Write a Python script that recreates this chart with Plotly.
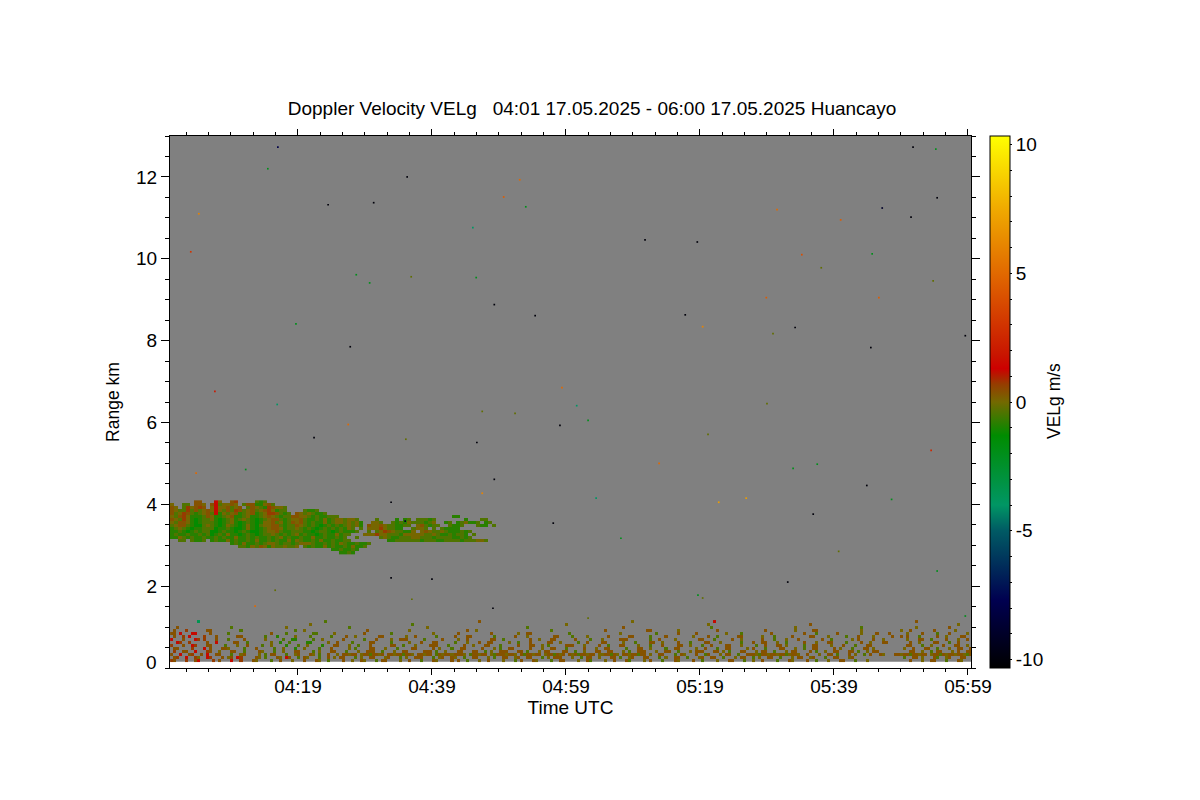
import plotly.graph_objects as go

TITLE = "Doppler Velocity VELg   04:01 17.05.2025 - 06:00 17.05.2025 Huancayo"
X_TICK_MIN = [19, 39, 59, 79, 99, 119]
X_TICK_TEXT = ["04:19", "04:39", "04:59", "05:19", "05:39", "05:59"]
X_MINOR_MIN = [m * 10 / 3 - 1 for m in range(0, 37)]
Y_TICKS = [0, 2, 4, 6, 8, 10, 12]
Y_MINOR = [v * 0.5 for v in range(0, 27)]

# velocity (m/s) for each letter used in the two rasters below
LEVELS = {"r": 1.2, "o": 0.7, "b": 0.35, "k": 0.05, "g": -0.4, "G": -0.85, "H": -1.25, "t": -3.5, "y": 6.0, "n": -9.0}

# Cloud layer, rows from top to bottom, 0.6 min x 0.073 km per letter
CLOUD_T0, CLOUD_DT = 0.2, 0.6
CLOUD_R0, CLOUD_DR = 4.06, -0.0732
CLOUD_ROWS = [
    "      bb   rk  bo    gGg",
    "k  gg bbk brgkkbk gbbGGkbg",
    "bk gokbob krkkbgkb gbkgGobkkg",
    "bkggogbgkbkrkgbgobgkbgkbokGgg    gGGg",
    "bgkobgGgkbgrGkgkbGgkbGgkoobgGg bkgkgGGg",
    "kgbokGGGgbkGGgkbGGgkGGgkbkgGggbbkkgGgGGggg                            GG",
    "bkgokGHGggkGHGgkGgkgGHGgkbbgGgkkbgGGgGkGgkkgkkg    g    G Gg gggGg       G   gg",
    "kgbbkGHGgggGHGgkGHGgGHGkkbgkGgbkbgGgGGkGgkkgkgkG  kkg  gGgGkgggGgk  Gg GgkGGg Gg",
    "gkbbgGHHgkgGHGkgGHGkGHgkkbbgGggbkgGgGHGgGgGgkgkG bkkbkggGGgg kbgGgg  gGGg   gGG g",
    "GgkgGHGGgggHGGgGHHGkGHGgkbbkGggkgGgGHGgGgGgGkg g kkkokggGG  gkkg g gGGGG",
    "GGgGHGgGggHHGgGGHGgGHHGgkkbgGGgggGGHGggGHGgGGGg  g gkobkggGGk kbkggkgGGGgGg",
    "GgGGgGGgGgHGgGkGGHGgGHGggkgGgGgkGgGGHGgGGkGgg   kkkokkgggGkkkkkggkgGGgGggG g",
    "GGkgGgGGgGGgGgGGkGGgGgGGgGgkGgGGgGGkGGgGGgGg  g     gkgGGgggkkgggGggggGGgGg",
    "  gg gGGg GgGGkGgGGgGkGGgGgGGkGkgGGgGkGGgGGgg         GGggggggGgggGGggggGgggkkg",
    "               GgGkGGgGgkkgGggGgkkkgGGgGgGkgGGgGGg",
    "                 ggGkgbkGkggkggk gGgGGkGgGGgGkGGg",
    "                                        GGgGGgG",
    "                                          GGgG",
]

# Low-level clutter, rows from top to bottom, 0.45 min x 0.073 km per letter
CLUTTER_T0, CLUTTER_DT = 0.15, 0.45
CLUTTER_R0, CLUTTER_DR = 1.135, -0.0732
CLUTTER_ROWS = [
    "         t                                         g                                                  b                                                  k                          r                                                                  b          ",
    "                                              k                                 g                                                  k                                              k                                 b                                    ",
    "  b                 g                 k                    g                         k                                g                               b                            g                           k                     g                 k     ",
    " b   o      bb         g                 g  k                    b             k                  b  k                        g                 b             bb        k            b               b         k     bb              k            k  b     ",
    "bb r   rr    b     g             b    g        gg     k         b        g             k       b          b        k  bb            g                k           g      b     b         k    g         b          b   g      b       k    b   b   ",
    " b  o r    o   b      bb       g   G     k    g      g    b  k       bb       k  b      g     b   bb       g      b   k        bb    g    k      b      bb     g    b        k    b  g      bb      k   g     b     bb    k     g   b    k     b  b ",
    "r   b   ro o   b   g    b      k     g  GG     g  k      b      g   b    k  bbb     g     b    k  b       bb  g        b  k   bb      b    g   k     bbb       g  b    k       bb   g     b  k      b   g   k   b       b  g      k b    b  k   ",
    "  ro  o     b  r     bb  g       k  G  g     GG     k  b    g     bb     g     k   b   bb     g   k   b  bb     k  g   b     bb  k     g  b    bb     k   g    bb  k    b   g    bb   k      g   b  bb   k  g     b   k   bb    g    b  k   bb ",
    "o   b  ro   bb    g   k  b    g  k    G   g  k    G   bb   k  g   b      bb  g   k    bbb   g    b  k   bb   g     b   bb  k g     bbb   k    b  g   bb    k   g   b    bb  k   g  b    bb   k    g  b   bb k     g  bb    k   b   g   bb  ",
    " bb    o   r b   bbk    g   b     g  k   G  k    g   b     k g    bb   k   g    bb     b k   g  bb     b   k g  bb     b   k  bb   g     b   k  bb     g   bb  k    g  bb     k  b   g  bb     k b   g    bb   k  g  bb     b k   g   bb k  ",
    " o  bb  r   ob  k   bb  g    bk   g  k   bb    g k   bb   g   k  bbb  g   k  bb     bbb g  k   bb   bb  g k  bbb   bb g   k bb    bb  g  k   bb  bb   k g  bbb   k  bb  g   k bbb   bb k g   bb   k bb  g   k bb    b g  k  bb   bb g  k bb  ",
    "b  r  bo  b r  bb   g  kb    k g bb   g  kb   bk g  b  k bbkbb kbbgbbkb bbkbbgbbk bbkbb gbkbbkbbbk gbbkbb kgbbbkbbk bgbbkbb kbbgbkb bkbgbbkbb kkbbgbk bbkbbgbb k  bb   g bk   b  gb   k bb  g  bbbkgbbkbbkbbgkbbk  b   k  bb g   b k  g b  bk   bbkbbgbbkbb kbbgbkbbkbbkgbbkbb",
    " bo  r  ok  ro   b kb ro    bk g   bk rb  g bk   g  b k bb   g k  bb   kb   g k  bbb   g kb  bk  g  bb   k g  bb  kb  bb   g k bbb   k  g bb  k   bb g  kb   bb   g k  bb  g   kb  bb  g   k bb  g k  bb  g   k bb  kb   g  bb   kb   ",
    "ob   o  br    o b   r  o   bk    g  b   k   b   bk  g    b  k  bk   g bb    k  b   g   bk    b b  g   k  b    k   g b   bk    g  bb    k  bg    k  b   bg    k b   g   bk    b  g    k   bb   g  k  b    g   bk    b  g   k   bb   g   k ",
]
# right-hand end of the clutter rows, starting 243 cells in
CLUTTER_TAILS = [
    "                        ",
    "            k           ",
    "     b                  ",
    "  b      k        b     ",
    " k    b    g   b     k  ",
    "b   g     b  k    bb    ",
    " k   bb  g    b   k  b  ",
    "  b  k    bb   g  b    k",
    " bb   g  k   b   bb  k  ",
    "k  b   bb  g   k  bb  b ",
    "  bb  k  g bb   k b  bb ",
    "",
    "g  bb k   bg  kb   bb  k",
    "  b   k  bb   g   bk   b",
]

# Isolated pixels: time (min after 04:00), range (km), velocity (m/s)
SPECK_T = [16.0, 14.5, 35.3, 23.5, 30.3, 4.2, 52.1, 49.7, 53.0, 45.1, 3.0, 78.6, 70.8, 94.2, 100.0, 90.5, 110.8, 114.2, 114.4, 110.5,
           106.2, 104.7, 97.1, 27.7, 29.7, 35.9, 45.6, 48.3, 54.4, 76.8, 79.4, 88.9, 105.7, 93.2, 89.9, 113.8, 118.6, 104.5, 26.8, 18.7,
           6.6, 58.4, 15.9, 60.6, 62.3, 58.1, 26.5, 21.4, 45.7, 46.5, 51.4, 89.0, 80.2, 35.1, 48.3, 46.5, 32.9, 72.9, 63.5, 81.8,
           85.9, 95.9, 96.5, 92.9, 113.5, 103.9, 107.6, 3.8, 11.2, 57.1, 67.2, 92.1, 99.7, 114.4, 32.9, 39.0, 15.6, 12.6, 79.4, 78.7,
           48.1, 36.0, 62.3, 118.6, 35.0]
SPECK_R = [12.73, 12.2, 12.0, 11.32, 11.37, 11.1, 11.93, 11.51, 11.27, 10.76, 10.17, 10.41, 10.46, 10.1, 10.95, 11.2, 12.73, 12.68, 11.49, 11.02,
           11.24, 10.12, 9.78, 9.61, 9.41, 9.56, 9.54, 8.88, 8.61, 8.63, 8.34, 9.05, 9.05, 8.32, 8.17, 9.46, 8.12, 7.83, 7.85, 8.41,
           6.76, 6.85, 6.44, 6.41, 6.05, 5.93, 5.95, 5.63, 5.51, 6.27, 6.22, 6.46, 5.71, 5.59, 4.61, 4.27, 4.05, 5.0, 4.15, 4.05,
           4.15, 3.76, 4.98, 4.88, 5.32, 4.46, 4.12, 4.76, 4.85, 3.54, 3.17, 2.1, 2.85, 2.37, 2.2, 2.17, 1.9, 1.51, 1.71, 1.78,
           1.46, 1.68, 1.22, 1.27, 3.59]
SPECK_V = [-8, -2, -10, -10, -10, 6, 5, 4.5, -2, -4, 3, -10, -10, 4, 4.5, 5, -10, -2, -10, -10,
           -9, -2, -0.2, -2, -2, -0.2, -2, -10, -10, -10, 6, 4.5, 4.5, -10, -0.2, -0.2, -10, -10, -10, -2,
           2, 5, -4, -4, -2, -10, 5, -10, -10, -0.2, -0.2, -0.2, -0.2, -0.2, -10, 6, -10, 5, -4, 7,
           7, -10, -2, -2, 2.5, -10, -2, 5, -2, -10, -2, -10, -0.2, -2, -10, -10, -0.2, 5, -0.2, -2,
           -10, -0.2, -0.2, -2, -9]

V_MIN, V_MAX = -10.33, 10.33
COLOR_STOPS = [(-10.33, "rgb(0,0,0)"), (-7.7, "rgb(0,0,80)"), (-5, "rgb(0,90,100)"), (-4, "rgb(0,150,100)"),
               (-1.3, "rgb(0,140,0)"), (0, "rgb(115,105,0)"), (0.7, "rgb(150,60,0)"), (1.3, "rgb(205,0,0)"),
               (1.8, "rgb(200,20,0)"), (5, "rgb(225,105,0)"), (7.5, "rgb(240,170,0)"), (10.33, "rgb(255,255,0)")]
COLORBAR_TICKS = list(range(-10, 11))
COLORBAR_LABELS = [str(v) if v % 5 == 0 else "" for v in COLORBAR_TICKS]

FONT = "Liberation Sans"
FS = 19
FS_ROT = 17.5


def decode(rows):
    width = max(len(r) for r in rows)
    return [[LEVELS.get(c) for c in r.ljust(width)] for r in rows]


colorscale = [[(v - V_MIN) / (V_MAX - V_MIN), c] for v, c in COLOR_STOPS]
clutter_full = [r if not t else r.ljust(243) + t for r, t in zip(CLUTTER_ROWS, CLUTTER_TAILS)]

fig = go.Figure()
fig.add_shape(type="rect", xref="paper", yref="y", x0=0, x1=1, y0=0.15, y1=13,
              fillcolor="#808080", line_width=0, layer="below")
for rows, t0, dt, r0, dr in [(clutter_full, CLUTTER_T0, CLUTTER_DT, CLUTTER_R0, CLUTTER_DR),
                             (CLOUD_ROWS, CLOUD_T0, CLOUD_DT, CLOUD_R0, CLOUD_DR)]:
    fig.add_trace(go.Heatmap(z=decode(rows), x0=t0, dx=dt, y0=r0, dy=dr, coloraxis="coloraxis",
                             hoverongaps=False, zsmooth=False))
fig.add_trace(go.Scatter(x=SPECK_T, y=SPECK_R, mode="markers",
                         marker=dict(symbol="square", size=1.7, color=SPECK_V, coloraxis="coloraxis", line_width=0)))

axis_common = dict(showgrid=False, zeroline=False, showline=True, linecolor="black", linewidth=1,
                   mirror="ticks", ticks="outside", tickcolor="black", tickwidth=1,
                   tickfont=dict(family=FONT, size=FS, color="black"))
fig.update_xaxes(range=[-0.1, 119.45], tickmode="array", tickvals=X_TICK_MIN, ticktext=X_TICK_TEXT, ticklen=6,
                 ticklabelstandoff=-5,
                 minor=dict(tickmode="array", tickvals=X_MINOR_MIN, ticks="outside", ticklen=3, tickcolor="black"),
                 title=dict(text="Time UTC", font=dict(family=FONT, size=FS, color="black"), standoff=1),
                 **axis_common)
fig.update_yaxes(range=[0, 13], tickmode="array", tickvals=Y_TICKS, ticktext=[""] + [str(v) for v in Y_TICKS[1:]], ticklen=8,
                 minor=dict(tickmode="array", tickvals=Y_MINOR, ticks="outside", ticklen=4, tickcolor="black"),
                 title=dict(text="Range km", font=dict(family=FONT, size=FS_ROT, color="black"), standoff=11),
                 **axis_common)
fig.add_annotation(text="0", xref="paper", yref="y", x=-0.0137, y=0.146, xanchor="right", yanchor="middle",
                   showarrow=False, font=dict(family=FONT, size=FS, color="black"))
fig.add_annotation(text="VELg m/s", xref="paper", yref="paper", x=(1053 - 169) / 801, y=(667 - 400) / 532,
                   xanchor="center", yanchor="middle", textangle=-90, showarrow=False,
                   font=dict(family=FONT, size=FS_ROT, color="black"))
fig.update_layout(
    width=1200, height=800, showlegend=False,
    margin=dict(l=162, r=237, t=128, b=140, autoexpand=False),
    paper_bgcolor="white", plot_bgcolor="white",
    font=dict(family=FONT, size=FS, color="black"),
    title=dict(text=TITLE, x=584 / 1200, xanchor="center", y=1 - 100 / 800, yanchor="middle",
               font=dict(family=FONT, size=FS, color="black")),
    coloraxis=dict(colorscale=colorscale, cmin=V_MIN, cmax=V_MAX,
                   colorbar=dict(x=1.024, xanchor="left", y=0.5, yanchor="middle", len=1, ypad=0, xpad=0,
                                 thickness=20, outlinewidth=1, outlinecolor="black",
                                 tickmode="array", tickvals=COLORBAR_TICKS, ticktext=COLORBAR_LABELS,
                                 ticks="outside", ticklen=2, tickcolor="black",
                                 tickfont=dict(family=FONT, size=FS, color="black"))),
)
fig.write_html("out.html", config={"displayModeBar": False})
